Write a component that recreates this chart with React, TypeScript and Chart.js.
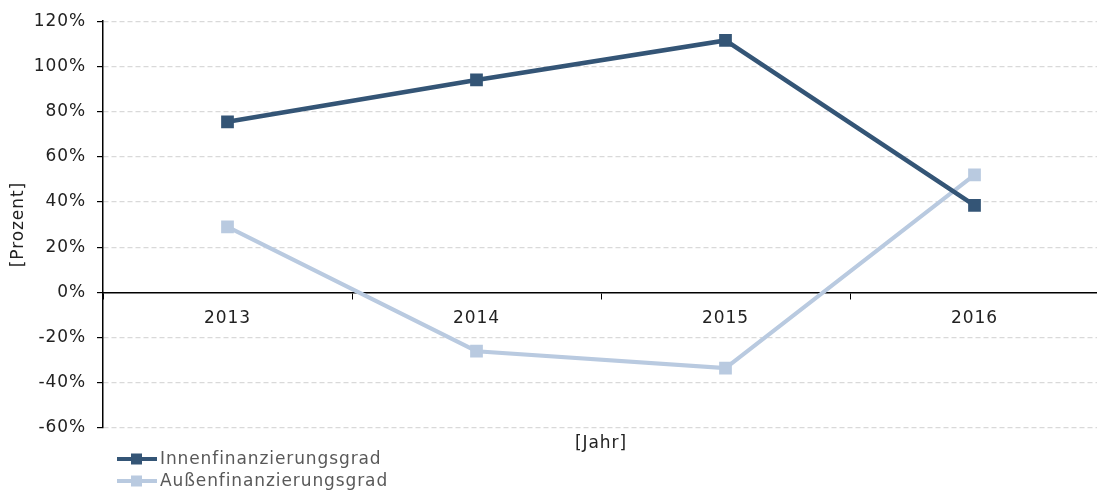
import { useEffect, useRef } from 'react';
import { Chart, registerables } from 'chart.js';

Chart.register(...registerables);

const years = ['2013', '2014', '2015', '2016'];
const innenfinanzierung = [75.5, 94, 111.5, 38.5];
const aussenfinanzierung = [29, -26, -33.5, 52];
const seriesNames = ['Innenfinanzierungsgrad', 'Außenfinanzierungsgrad'];
const seriesColors = ['#345576', '#B9CAE0'];
const yMin = -60;
const yMax = 120;
const yStep = 20;
const xTitle = '[Jahr]';
const yTitle = '[Prozent]';

const FONT = '"DejaVu Sans", Verdana, sans-serif';
const SPACING = '0.9px';
const CANVAS_W = 1108;

export default function App() {
  const ref = useRef<HTMLCanvasElement | null>(null);

  useEffect(() => {
    document.body.style.margin = '0';
    const canvas = ref.current;
    if (!canvas) return;

    const overlay = {
      id: 'overlay',
      beforeDraw(chart: any) {
        (chart.ctx as any).letterSpacing = SPACING;
      },
      afterDraw(chart: any) {
        const ctx = chart.ctx;
        ctx.save();
        (ctx as any).letterSpacing = SPACING;
        ctx.fillStyle = '#222';
        ctx.font = `17px ${FONT}`;
        ctx.textAlign = 'center';
        ctx.textBaseline = 'middle';
        ctx.fillText(xTitle, 601, 444);
        const rows = [459, 481];
        seriesNames.forEach((name, i) => {
          const y = rows[i];
          ctx.strokeStyle = seriesColors[i];
          ctx.lineWidth = 4;
          ctx.beginPath();
          ctx.moveTo(117, y);
          ctx.lineTo(157, y);
          ctx.stroke();
          ctx.fillStyle = seriesColors[i];
          ctx.fillRect(131, y - 5.5, 11, 11);
          ctx.fillStyle = '#595959';
          ctx.textAlign = 'left';
          ctx.textBaseline = 'middle';
          ctx.font = `17px ${FONT}`;
          ctx.fillText(name, 160, y + 1);
        });
        ctx.restore();
      },
    };

    const chart = new Chart(canvas, {
      type: 'line',
      data: {
        labels: years,
        datasets: [
          {
            label: seriesNames[0],
            data: innenfinanzierung,
            borderColor: seriesColors[0],
            backgroundColor: seriesColors[0],
            borderWidth: 4.5,
            pointStyle: 'rect',
            pointRadius: 9,
            pointBorderWidth: 0,
            tension: 0,
          },
          {
            label: seriesNames[1],
            data: aussenfinanzierung,
            borderColor: seriesColors[1],
            backgroundColor: seriesColors[1],
            borderWidth: 4,
            pointStyle: 'rect',
            pointRadius: 9,
            pointBorderWidth: 0,
            tension: 0,
          },
        ],
      },
      options: {
        animation: false,
        responsive: false,
        maintainAspectRatio: false,
        layout: { padding: { top: 20, bottom: 65, left: 0, right: 0 } },
        plugins: {
          legend: { display: false },
          tooltip: { enabled: false },
        },
        scales: {
          x: {
            position: { y: 0 } as any,
            offset: true,
            afterFit: (scale: any) => {
              scale.paddingRight = 0;
              scale.paddingLeft = 0;
            },
            grid: {
              display: true,
              drawOnChartArea: false,
              drawTicks: true,
              tickLength: 6,
              tickColor: '#000',
              offset: true,
            },
            border: { display: true, color: '#000', width: 1.5 },
            ticks: {
              color: '#222',
              font: { family: FONT, size: 17 },
              padding: 10,
              maxRotation: 0,
            },
          },
          y: {
            min: yMin,
            max: yMax,
            afterFit: (scale: any) => {
              scale.width = 103;
            },
            grid: {
              color: (c: any) => (c.tick && c.tick.value === 0 ? 'rgba(0,0,0,0)' : '#D9D9D9'),
              lineWidth: 1.2,
              tickColor: '#000',
              tickLength: 6,
            },
            border: { display: true, color: '#000', width: 1.5, dash: [5, 3] },
            ticks: {
              stepSize: yStep,
              color: '#222',
              font: { family: FONT, size: 17 },
              padding: 11,
              callback: (v: any) => `${v}%`,
            },
            title: {
              display: true,
              text: yTitle,
              color: '#222',
              font: { family: FONT, size: 17 },
              padding: { top: 8, bottom: 0 },
            },
          },
        },
      },
      plugins: [overlay],
    });

    return () => chart.destroy();
  }, []);

  return (
    <div style={{ position: 'fixed', left: 0, top: 0, width: 1097, height: 493, overflow: 'hidden' }}>
      <canvas
        ref={ref}
        width={CANVAS_W}
        height={493}
        style={{ width: CANVAS_W, height: 493, display: 'block' }}
      />
    </div>
  );
}
